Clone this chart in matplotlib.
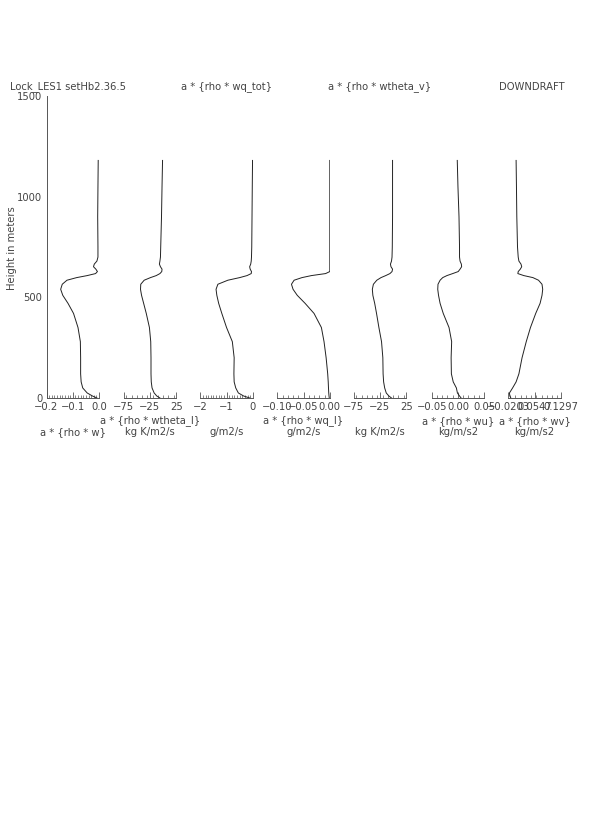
import matplotlib
matplotlib.use("Agg")
import matplotlib.pyplot as plt
from matplotlib.ticker import FixedLocator, MultipleLocator

# heights (m) shared by all profiles
height = [0, 10, 25, 50, 80, 120, 200, 280, 350, 420, 470, 510, 540, 565, 585,
          598, 608, 618, 628, 640, 652, 665, 680, 700, 750, 900, 1050, 1180]

rho_w = [-0.008, -0.025, -0.045, -0.062, -0.068, -0.070, -0.070, -0.071, -0.080,
         -0.097, -0.118, -0.138, -0.146, -0.140, -0.122, -0.085, -0.045, -0.013,
         -0.006, -0.012, -0.021, -0.018, -0.008, -0.004, -0.004, -0.005, -0.004, -0.003]
rho_wthetal = [-6, -12, -17, -21, -22.5, -23, -23, -23.5, -26, -32, -37, -41, -43,
               -42.5, -36, -24, -13, -6, -2.5, -2, -5, -7, -6, -5, -4.5, -3, -2, -1]
rho_wqtot = [-0.12, -0.35, -0.55, -0.65, -0.71, -0.72, -0.71, -0.78, -1.00, -1.18,
             -1.30, -1.37, -1.40, -1.33, -0.95, -0.50, -0.22, -0.06, -0.05, -0.10,
             -0.12, -0.08, -0.06, -0.05, -0.04, -0.03, -0.02, -0.01]
rho_wql = [-0.001, -0.0015, -0.002, -0.0025, -0.003, -0.004, -0.007, -0.011, -0.016,
           -0.030, -0.047, -0.062, -0.070, -0.073, -0.068, -0.053, -0.035, -0.008,
           0.0, 0.0, 0.0, 0.0, 0.0, 0.0, 0.0, 0.0, 0.0, 0.0]
rho_wthetav = [-3, -8, -13, -16, -18, -19, -19.5, -22, -27, -31.5, -35, -38.5, -39.5,
               -37.5, -31, -23, -14, -6, -2, -1, -4, -5, -3, -2, -1.5, -1, -1, -1]
rho_wu = [0.006, 0.003, -0.001, -0.003, -0.009, -0.0125, -0.013, -0.012, -0.017,
          -0.028, -0.034, -0.037, -0.0385, -0.038, -0.034, -0.029, -0.021, -0.010,
          0.0005, 0.004, 0.007, 0.0065, 0.004, 0.003, 0.003, 0.002, 0.0, -0.0013]
rho_wv = [-0.013, -0.016, -0.017, -0.008, 0.002, 0.010, 0.019, 0.031, 0.043, 0.058,
          0.0705, 0.076, 0.078, 0.076, 0.066, 0.050, 0.024, 0.007, 0.008, 0.014,
          0.018, 0.016, 0.010, 0.008, 0.006, 0.004, 0.003, 0.002]

profiles = [rho_w, rho_wthetal, rho_wqtot, rho_wql, rho_wthetav, rho_wu, rho_wv]
xlims = [(-0.2, 0.0), (-75, 25), (-2, 0), (-0.1, 0.0), (-75, 25), (-0.05, 0.05),
         (-0.0203, 0.1297)]
tick_vals = [[-0.2, -0.1, 0.0], [-75, -25, 25], [-2, -1, 0], [-0.10, -0.05, 0.00],
             [-75, -25, 25], [-0.05, 0.0, 0.05], [-0.0203, 0.0547, 0.1297]]
tick_labels = [["\u22120.2", "\u22120.1", "0.0"], ["\u221275", "\u221225", "25"],
               ["\u22122", "\u22121", "0"], ["\u22120.10", "\u22120.05", "0.00"],
               ["\u221275", "\u221225", "25"], ["\u22120.05", "0.00", "0.05"],
               ["\u22120.0203", "0.0547", "0.1297"]]
minor_step = [0.01, 10, 0.1, 0.01, 10, 0.01, 0.015]
label_top = ["", "a * {rho * wtheta_l}", "", "a * {rho * wq_l}", "",
             "a * {rho * wu}", "a * {rho * wv}"]
label_bot = ["a * {rho * w}", "kg K/m2/s", "g/m2/s", "g/m2/s", "kg K/m2/s",
             "kg/m/s2", "kg/m/s2"]

W, H = 595, 833
fig = plt.figure(figsize=(W / 100, H / 100), dpi=100)
txt = "#444444"
fs = 7.2

lefts = [46.5, 123.7, 200.3, 277.3, 353.7, 431.7, 508.3]
pw = 52.5
y_top, y_bot = 96, 398

for i, prof in enumerate(profiles):
    ax = fig.add_axes([lefts[i] / W, 1 - y_bot / H, pw / W, (y_bot - y_top) / H])
    ax.plot(prof, height, color="#222222", lw=0.7)
    ax.set_xlim(*xlims[i])
    ax.set_ylim(0, 1500)
    for s in ["top", "right"]:
        ax.spines[s].set_visible(False)
    ax.spines["bottom"].set_color("#555555")
    ax.spines["bottom"].set_linewidth(0.7)
    ax.xaxis.set_major_locator(FixedLocator(tick_vals[i]))
    ax.set_xticklabels(tick_labels[i])
    ax.xaxis.set_minor_locator(MultipleLocator(minor_step[i]))
    ax.tick_params(axis="x", which="major", direction="in", length=4, width=0.6,
                   color="#555555", labelsize=fs, labelcolor=txt, pad=3)
    ax.tick_params(axis="x", which="minor", direction="in", length=2, width=0.5,
                   color="#555555")
    if i == 0:
        ax.spines["left"].set_color("#555555")
        ax.spines["left"].set_linewidth(0.7)
        ax.set_yticks([0, 500, 1000, 1500])
        ax.tick_params(axis="y", length=0, labelsize=fs, labelcolor=txt, pad=3)
    else:
        ax.spines["left"].set_visible(False)
        ax.set_yticks([])
    cx = (lefts[i] + pw / 2) / W
    fig.text(cx, 1 - 421 / H, label_top[i], ha="center", va="center",
             fontsize=fs, color=txt)
    fig.text(cx, 1 - 432 / H, label_bot[i], ha="center", va="center",
             fontsize=fs, color=txt)

fig.text(12 / W, 1 - 248 / H, "Height in meters", rotation=90, ha="center",
         va="center", fontsize=fs, color=txt)
fig.text(10 / W, 1 - 87 / H, "Lock_LES1 setHb2.36.5", ha="left", va="center",
         fontsize=fs, color=txt)
fig.text((lefts[2] + pw / 2) / W, 1 - 87 / H, "a * {rho * wq_tot}", ha="center",
         va="center", fontsize=fs, color=txt)
fig.text((lefts[4] + pw / 2) / W, 1 - 87 / H, "a * {rho * wtheta_v}", ha="center",
         va="center", fontsize=fs, color=txt)
fig.text(565 / W, 1 - 87 / H, "DOWNDRAFT", ha="right", va="center",
         fontsize=fs, color=txt)

fig.savefig("out.png", dpi=100)
plt.close(fig)
